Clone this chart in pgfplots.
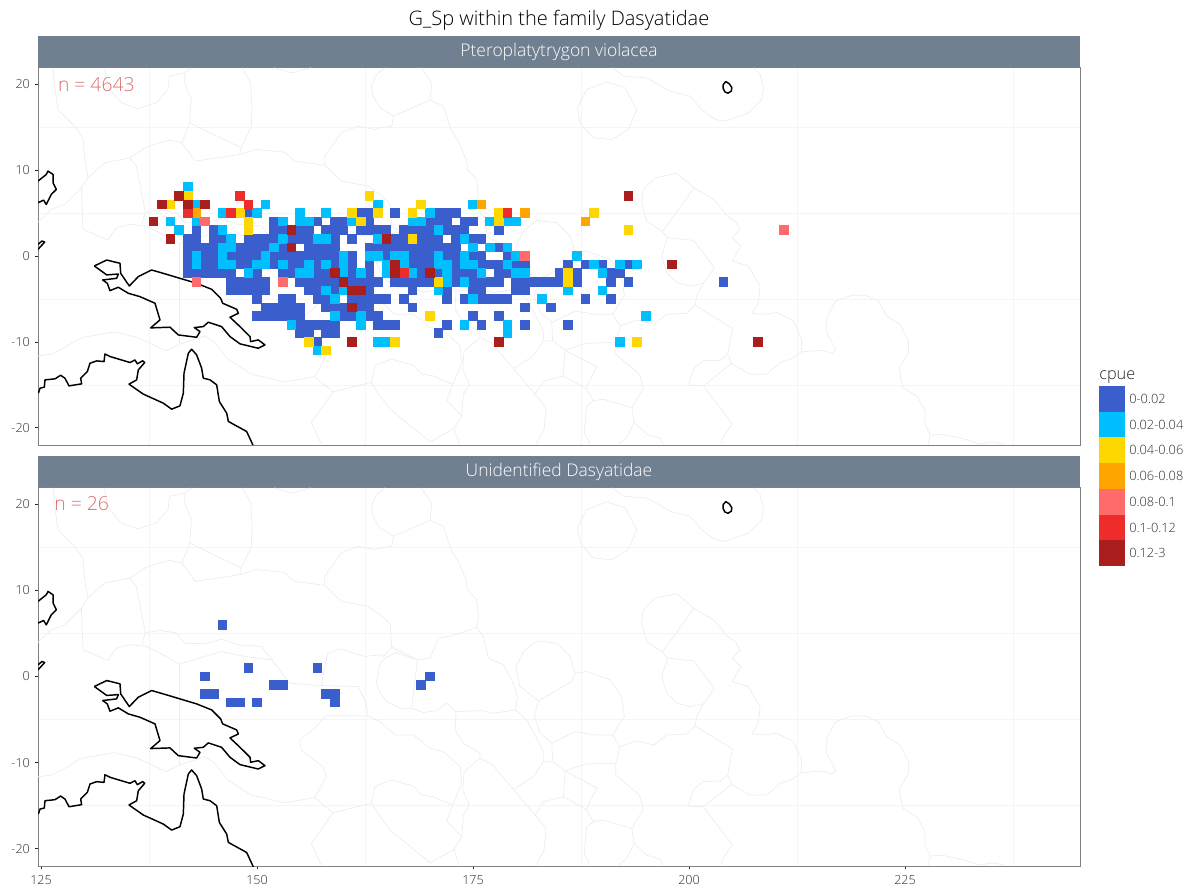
\documentclass[border=0pt]{standalone}
\usepackage{pgfplots}
\pgfplotsset{compat=1.18}
\usepackage{fontspec}
\setmainfont{Open Sans}[UprightFont=* Light]

\definecolor{c1}{HTML}{3A5FCD}
\definecolor{c2}{HTML}{00BFFF}
\definecolor{c3}{HTML}{FFD700}
\definecolor{c4}{HTML}{FFA500}
\definecolor{c5}{HTML}{FF6A6A}
\definecolor{c6}{HTML}{EE2C2C}
\definecolor{c7}{HTML}{AB1E1E}
\definecolor{stripcol}{HTML}{708090}
\definecolor{txtgrey}{HTML}{303030}
\definecolor{nred}{HTML}{DC6E6E}

\pgfplotsset{
  mapaxis/.style={
    scale only axis, width=781.5pt,
    xmin=124.65, xmax=245.25, ymin=-22, ymax=22,
    xtick={125,150,175,200,225},
    ytick={-20,-10,0,10,20},
    minor xtick={137.5,162.5,187.5,212.5,237.5},
    minor ytick={-15,-5,5,15},
    xminorgrids, yminorgrids,
    minor grid style={draw=black!4, line width=0.5pt},
    axis line style={draw=black!50, line width=0.7pt},
    tick align=outside, tick pos=left,
    major tick length=2.6pt, minor tick length=0pt,
    tick style={draw=black!85, line width=0.6pt},
    ticklabel style={font=\fontsize{9.4pt}{10pt}\selectfont, text=txtgrey},
    /pgf/number format/assume math mode=true,
    /pgf/number format/1000 sep={},
    xticklabel style={yshift=-1pt},
  },
  tile/.style={only marks, mark=square*, mark size=3.24pt,
    mark options={solid, draw=#1, fill=#1, line width=0pt}},
  eezline/.style={draw=black!7, line width=0.55pt},
  coast/.style={draw=black, line width=1.1pt, line join=round},
}

% EEZ boundaries, lon/lat
\newcommand{\eez}[1]{\addplot[eezline] coordinates {#1};}
\newcommand{\eezlines}{
\eez{(126.39,21.9)(126.58,19.76)(126.96,17.05)(128.7,15.31)(129.86,13.76)(130.05,11.24)(130.44,9.11)(129.67,7.94)(129.86,3.1)(132.75,1.86)(133.72,3.29)(135.26,3.68)(137.19,3.49)(139.5,2.32)(141.05,1.43)}
\eez{(124.65,3.95)(126.19,5.42)(127.74,6.0)(129.67,7.94)}
\eez{(130.44,9.11)(132.37,10.85)(135.26,11.43)(136.03,10.46)(137.07,5.11)(136.69,3.68)}
\eez{(135.26,11.43)(137.38,12.79)(139.89,13.49)(141.32,13.18)(142.86,11.04)(147.99,11.82)(149.92,12.4)(153.2,12.09)(154.36,11.04)(157.83,10.58)(159.76,8.72)(162.84,8.14)(164.24,7.17)(165.4,6.12)(165.59,3.41)}
\eez{(137.07,5.11)(138.92,5.35)(140.66,5.04)(141.63,3.87)(143.94,3.8)(145.87,4.34)(147.8,3.68)(150.5,3.49)(151.73,1.93)(153.78,-0.78)(157.44,-1.05)(161.69,-1.17)(162.65,-3.1)(162.84,-4.58)(164.24,-5.24)(165.98,-6.79)(168.1,-6.79)(170.03,-8.34)(171.57,-8.72)(173.5,-10.47)(173.69,-12.41)(172.65,-14.93)(171.96,-16.79)(173.69,-18.61)}
\eez{(141.05,1.43)(143.94,2.32)(145.87,2.9)(148.57,2.32)(151.73,1.93)}
\eez{(132.37,21.9)(132.56,20.54)(132.94,19.38)(134.3,17.83)(136.22,17.13)(138.35,17.83)(139.7,19.38)(139.89,20.93)(141.63,21.31)(142.5,21.9)}
\eez{(141.63,21.31)(141.63,20.15)(142.4,18.21)(142.2,15.5)(141.32,13.18)}
\eez{(142.2,15.5)(148.18,12.59)(149.34,15.11)(149.42,17.44)(149.26,20.15)(148.28,21.9)}
\eez{(148.18,12.59)(147.99,11.82)}
\eez{(152,21.9)(153.97,21.31)(156.2,21.9)}
\eez{(157.83,10.58)(157.83,11.62)(159.76,14.34)(161.69,15.11)(163.62,14.73)(164.24,14.92)(165.59,15.11)(165.78,16.28)}
\eez{(141.05,1.43)(141.05,-10.27)}
\eez{(124.65,-11.63)(126.19,-11.44)(127.74,-10.66)(129.67,-9.5)(133.52,-8.84)(136.22,-9.5)(139.5,-11.05)(141.05,-10.27)(143.94,-9.3)(145.1,-10.08)(146.64,-12.02)(149.34,-13.76)(153.2,-14.65)(156.67,-14.07)(158.02,-11.63)(157.63,-10.47)(155.13,-8.53)(154.94,-7.37)(156.67,-6.01)(158.02,-4.54)(162.84,-4.58)}
\eez{(156.67,-14.07)(158.79,-15.82)(163.23,-14.73)(164.24,-16.28)(165.4,-17.83)(170.03,-21.63)(172.8,-20.08)(173.69,-18.61)(173.89,-16.09)(174.58,-14.93)(173.81,-13.18)(173.96,-11.05)(175.81,-9.5)}
\eez{(158.79,-15.82)(156.29,-19.38)(157.44,-21.9)}
\eez{(163.23,-14.73)(163.62,-12.79)(164.24,-12.52)(165.59,-12.02)(168.1,-12.72)(169.06,-13.76)(170.41,-13.96)(172.65,-14.93)}
\eez{(157.44,-1.05)(158.02,1.93)(158.21,2.71)(159.57,3.21)(162.46,2.32)(164.24,2.52)(164.63,2.32)(165.59,3.41)}
\eez{(164.8,21.9)(163.81,21.12)(163.23,19.76)(163.42,18.6)(164.24,17.25)(165.78,16.28)(170.03,18.14)(170.22,20.15)(169,21.9)}
\eez{(170.03,18.14)(171.57,17.44)(172.42,14.73)(173.31,13.37)(174.27,11.04)(174.35,10.07)(175.43,8.91)(175.62,6.97)(175.43,5.7)}
\eez{(165.59,3.41)(168.56,1.93)(170.03,2.13)(170.99,4.45)(172.53,4.73)(175.43,5.7)(176.2,4.65)(176.78,2.13)(178.51,1.35)(179.67,-0.78)(180.13,-2.33)(179.94,-3.88)(177.36,-4.27)(176.2,-3.96)(173.04,-4.07)(171.96,-3.1)(170.8,-3.96)(169.26,-4.19)(167.9,-3.69)(166.55,-3.69)(165.01,-2.91)(164.39,-2.13)(163.81,-0.78)(164.24,1.55)(164.82,2.13)(166.09,2.79)(168.56,1.93)}
\eez{(168.56,1.93)(167.9,-3.69)}
\eez{(179.94,-3.88)(181.22,-5.04)(182.37,-7.17)(183.14,-8.72)(183.14,-9.89)(181.99,-11.63)(179.67,-13.1)}
\eez{(173.04,-4.07)(172.92,-6.2)(173.89,-7.75)(175.81,-8.92)(175.81,-9.5)(177.16,-10.16)(179.67,-13.1)(182.18,-16.09)(183.45,-17.64)(183.22,-20.16)(182.3,-21.9)}
\eez{(172.8,-20.08)(173.42,-21.9)}
\eez{(183.14,-9.89)(184.22,-9.89)(185.65,-10.97)(185.46,-13.96)(183.14,-14.54)(182.18,-16.09)}
\eez{(184.22,-9.89)(184.11,-7.75)(186.81,-6.4)(189.12,-6.79)(191.13,-6.79)(192.02,-8.14)(191.52,-10.08)(187.97,-10.16)(185.65,-10.97)}
\eez{(185.65,-10.97)(189.32,-12.91)(188.08,-15.43)(185.46,-13.96)}
\eez{(188.08,-15.43)(188.93,-16.86)(188.16,-17.45)(187.85,-20.55)(188.55,-21.9)}
\eez{(188.93,-16.86)(190.09,-16.67)(193.37,-17.64)(194.72,-15.43)(194.26,-13.76)(191.52,-11.44)(191.52,-10.08)}
\eez{(193.37,-17.64)(193.64,-19.38)(195.1,-20.74)(196.65,-21.2)(197.03,-21.9)}
\eez{(193.64,-19.38)(192.79,-21.13)(191.82,-21.9)}
\eez{(192.02,-8.14)(193.95,-7.45)(195.95,-7.95)(197.42,-6.79)(199.73,-6.67)(200.7,-5.74)(205.02,-8.41)(204.48,-11.44)(204.94,-12.52)(207.06,-13.76)(208.99,-13.76)(210.54,-12.41)(211.89,-11.94)(212.97,-11.17)(213.04,-9.69)(212.08,-7.56)(210.15,-6.59)(208.41,-6.79)(207.26,-6.67)(208.03,-5.43)(208.22,-3.49)(206.87,-1.17)(205.02,-0.58)(206.02,1.16)(205.02,2.13)(205.91,3.1)(205.33,4.07)(204.17,4.84)(203.98,5.23)(202.82,6.59)(200.58,7.94)}
\eez{(200.7,-5.74)(200.89,-4.65)(201.66,-3.18)(202.94,-1.36)(200.5,1.82)(197.53,2.13)(196.84,0)(197.42,-1.94)(198.58,-3.1)(200.12,-3.49)(201.66,-3.18)}
\eez{(197.53,2.13)(196.92,2.83)(195.1,4.07)(194.53,6.2)(194.72,7.75)(196.07,9.1)(198.58,9.61)(200.58,7.94)(196.92,2.83)}
\eez{(212.97,-11.17)(215.36,-10.97)(216.52,-11.32)(216.98,-10.97)(215.94,-8.92)(215.94,-7.17)(216.98,-5.24)(218.83,-4.58)(220.37,-4.58)(221.92,-5.24)(222.88,-6.98)(224.42,-7.95)(225.39,-9.89)(225.39,-11.24)(224.31,-13.1)(224.73,-15.31)(226.35,-16.28)(227.32,-18.03)(227.32,-19.58)(227.9,-20.86)(227.7,-21.9)}
\eez{(227.9,-20.86)(229.25,-20.74)(231.95,-21.32)(233.68,-21.9)(235.03,-21.63)(236.58,-21.9)}
\eez{(204.94,-12.52)(204.17,-13.1)(201.66,-15.12)(199.93,-15.04)(200.5,-13.18)(201.59,-12.21)(203.59,-12.13)(204.48,-11.44)}
\eez{(201.66,-15.12)(204.17,-18.41)(205.02,-19.58)(204.17,-20.74)(203.78,-21.32)(203.78,-21.9)}
\eez{(191.1,21.9)(192.4,20.93)(195.1,20.73)(197.8,19.18)(200.12,18.6)(201.47,17.05)(203.01,15.89)(204.17,15.69)(206.87,16.66)(208.41,18.21)(208.61,19.57)(208.22,21.12)(207.5,21.9)}
\eez{(182.57,-2.83)(186.42,-0.58)(186.81,0.38)(186.23,2.32)(184.69,3.87)(182.37,4.14)(180.83,2.9)(179.94,0.97)(180.44,-1.17)(182.57,-2.83)(182.1,-4.65)(182.76,-6.59)(184.22,-7.75)}
\eez{(191.13,-6.79)(192.52,-4.65)(192.21,-2.33)(190.86,-0.39)(188.16,0.58)(186.81,0.38)}
\eez{(190.47,20.27)(192.6,19.57)(193.95,17.05)(192.98,14.73)(191.05,13.56)(188.93,13.76)(187.39,15.5)(187.08,17.25)(188.16,19.38)(190.47,20.27)}
}

% coastlines, lon/lat
\newcommand{\coastlines}{
\addplot[coast] coordinates {(131.17,-1.16)(132.6,-0.47)(134.14,-0.85)(134.22,-2.02)(135.22,-3.49)(136.26,-2.40)(137.8,-1.63)(139.15,-2.02)(141.08,-2.60)(143.01,-3.18)(144.75,-3.88)(145.79,-4.92)(146.02,-5.5)(147.64,-6.2)(147.84,-6.67)(146.87,-7.13)(148.03,-8.22)(149.19,-9.38)(149.26,-9.96)(150.15,-9.77)(150.92,-10.35)(150.15,-10.74)(148.03,-10.23)(146.87,-9.38)(145.9,-8.22)(144.36,-7.71)(143.78,-8.22)(142.74,-8.33)(143.4,-8.8)(143.01,-9.46)(140.89,-9.19)(139.93,-8.29)(137.69,-8.37)(138.77,-7.44)(138.19,-5.5)(136.45,-4.73)(135.1,-4.34)(133.95,-3.64)(132.98,-4.03)(132.67,-3.18)(132.13,-2.79)(133.75,-2.6)(133.95,-2.1)(132.6,-2.2)(131.17,-1.16)};
\addplot[coast] coordinates {(124.69,-15.97)(124.88,-15.39)(125.38,-15.27)(125.46,-14.42)(126.62,-14.3)(127.27,-13.88)(127.77,-14.23)(128.24,-15.12)(129.7,-14.88)(129.59,-14.22)(130.36,-13.45)(130.67,-12.48)(131.44,-12.21)(132.29,-12.29)(132.4,-11.4)(132.98,-11.7)(135.3,-12.4)(135.87,-12.1)(136.15,-12.56)(136.76,-12.2)(137,-12.4)(136.26,-13.26)(136.07,-14.42)(135.18,-14.92)(136.84,-16.08)(139.15,-17.13)(140.12,-17.83)(141.08,-17.44)(141.47,-15.97)(141.55,-13.64)(142.05,-11.32)(142.43,-10.85)(143.01,-11.51)(143.59,-13.06)(143.78,-14.22)(144.56,-14.42)(145.33,-15)(145.64,-16.94)(146.49,-18.3)(146.68,-19.26)(148.8,-20.43)(149.57,-22.1)};
\addplot[coast] coordinates {(124.65,8.72)(125.61,9.49)(125.81,9.88)(126.39,9.49)(126.39,8.52)(126.77,7.75)(126.19,7.17)(125.61,6.0)(125.3,6.5)(124.65,6.2)};
\addplot[coast] coordinates {(124.65,0.77)(125.42,1.62)(125.11,1.74)(124.65,1.35)};
\addplot[coast] coordinates {(203.95,19.95)(204.25,20.3)(204.65,20.05)(204.95,19.6)(204.9,19.2)(204.5,18.95)(204.15,19.1)(203.95,19.5)(203.95,19.95)};
}

\begin{document}
\begin{tikzpicture}[x=1pt,y=1pt]
\path[use as bounding box] (0,0) rectangle (895.5,669);

\begin{axis}[mapaxis, at={(28.5pt,335.25pt)}, anchor=south west,
    height=283.5pt, xticklabels={}, xtick style={draw=none}]
\addplot[tile=c1] coordinates {
(149,5)(162,5)(163,5)(166,5)(171,5)(172,5)(173,5)
(152,4)(157,4)(159,4)(160,4)(163,4)(170,4)(171,4)(172,4)(174,4)(175,4)
(143,3)(145,3)(152,3)(153,3)(155,3)(156,3)(158,3)(159,3)(160,3)(162,3)(163,3)(164,3)(165,3)(167,3)(168,3)(169,3)(170,3)(172,3)(173,3)(174,3)(178,3)
(142,2)(143,2)(145,2)(146,2)(149,2)(150,2)(151,2)(152,2)(154,2)(155,2)(156,2)(159,2)(161,2)(166,2)(167,2)(169,2)(170,2)(171,2)(173,2)(175,2)(176,2)
(142,1)(143,1)(144,1)(145,1)(148,1)(149,1)(150,1)(151,1)(153,1)(156,1)(157,1)(158,1)(159,1)(163,1)(164,1)(165,1)(166,1)(167,1)(168,1)(169,1)(170,1)(171,1)(172,1)(173,1)(178,1)
(142,0)(144,0)(145,0)(147,0)(148,0)(149,0)(150,0)(152,0)(153,0)(154,0)(155,0)(156,0)(157,0)(158,0)(159,0)(161,0)(165,0)(168,0)(169,0)(170,0)(172,0)(173,0)(175,0)(176,0)(179,0)
(142,-1)(144,-1)(145,-1)(148,-1)(149,-1)(152,-1)(154,-1)(155,-1)(157,-1)(159,-1)(161,-1)(163,-1)(168,-1)(169,-1)(170,-1)(173,-1)(176,-1)(177,-1)(178,-1)(180,-1)(181,-1)(186,-1)(188,-1)(190,-1)(193,-1)
(142,-2)(143,-2)(144,-2)(145,-2)(146,-2)(147,-2)(150,-2)(153,-2)(154,-2)(157,-2)(158,-2)(161,-2)(163,-2)(169,-2)(171,-2)(173,-2)(174,-2)(175,-2)(178,-2)(179,-2)(185,-2)(187,-2)(191,-2)(192,-2)
(147,-3)(148,-3)(149,-3)(150,-3)(151,-3)(155,-3)(156,-3)(157,-3)(158,-3)(159,-3)(161,-3)(162,-3)(163,-3)(164,-3)(166,-3)(167,-3)(168,-3)(169,-3)(170,-3)(173,-3)(175,-3)(176,-3)(177,-3)(178,-3)(180,-3)(181,-3)(182,-3)(183,-3)(184,-3)(185,-3)(187,-3)(191,-3)(193,-3)(204,-3)
(147,-4)(148,-4)(149,-4)(150,-4)(151,-4)(156,-4)(157,-4)(159,-4)(163,-4)(168,-4)(172,-4)(175,-4)(176,-4)(180,-4)(181,-4)
(150,-5)(153,-5)(154,-5)(157,-5)(158,-5)(161,-5)(162,-5)(163,-5)(164,-5)(165,-5)(167,-5)(172,-5)(174,-5)(176,-5)(177,-5)(178,-5)(179,-5)(188,-5)(191,-5)
(151,-6)(152,-6)(153,-6)(154,-6)(155,-6)(158,-6)(159,-6)(160,-6)(162,-6)(163,-6)(168,-6)(181,-6)(184,-6)
(150,-7)(151,-7)(152,-7)(153,-7)(154,-7)(155,-7)(160,-7)(161,-7)(163,-7)(164,-7)(175,-7)(178,-7)
(155,-8)(156,-8)(157,-8)(158,-8)(159,-8)(164,-8)(165,-8)(166,-8)(172,-8)(176,-8)(181,-8)(186,-8)
(155,-9)(156,-9)(158,-9)(159,-9)(171,-9)
(157,-10)
};
\addplot[tile=c2] coordinates {
(142,8)
(143,6)(151,6)(164,6)(175,6)
(146,5)(150,5)(155,5)(158,5)(170,5)
(140,4)(143,4)(153,4)(155,4)(156,4)(161,4)(168,4)(169,4)(177,4)(179,4)(180,4)
(141,3)(146,3)(171,3)
(147,2)(153,2)(157,2)(158,2)(164,2)(174,2)
(146,1)(147,1)(152,1)(175,1)(177,1)(179,1)
(143,0)(146,0)(151,0)(160,0)(163,0)(164,0)(166,0)(167,0)(171,0)(174,0)(180,0)(187,0)
(143,-1)(146,-1)(147,-1)(150,-1)(151,-1)(153,-1)(156,-1)(158,-1)(160,-1)(165,-1)(167,-1)(171,-1)(172,-1)(174,-1)(175,-1)(179,-1)(189,-1)(192,-1)(194,-1)
(149,-2)(155,-2)(156,-2)(160,-2)(162,-2)(165,-2)(168,-2)(172,-2)(176,-2)(180,-2)(181,-2)(190,-2)
(172,-3)(174,-3)
(158,-4)(160,-4)(171,-4)(186,-4)(190,-4)
(159,-5)(175,-5)(183,-5)
(159,-7)(162,-7)(195,-7)
(154,-8)(162,-8)(174,-8)(179,-8)
(179,-9)
(164,-10)(165,-10)(192,-10)
(157,-11)
};
\addplot[tile=c3] coordinates {(142,7)(163,7)(140,6)(169,6)(148,5)(161,5)(164,5)(168,5)(178,5)(189,5)(149,4)(162,4)(178,4)(149,3)(193,3)(168,2)(186,-2)(171,-3)(186,-3)(170,-7)(156,-10)(166,-10)(194,-10)(158,-11)};
\addplot[tile=c4] coordinates {(176,6)(143,5)(181,5)(188,4)};
\addplot[tile=c5] coordinates {(144,4)(211,3)(181,0)(143,-3)(153,-3)};
\addplot[tile=c6] coordinates {(148,7)(149,6)(142,5)(147,5)(179,5)(167,-2)};
\addplot[tile=c7] coordinates {(141,7)(193,7)(139,6)(142,6)(144,6)(138,4)(154,3)(140,2)(165,2)(154,1)(166,-1)(198,-1)(159,-2)(166,-2)(170,-2)(160,-3)(161,-4)(162,-4)(161,-6)(161,-10)(178,-10)(208,-10)};
\eezlines
\coastlines
\node[text=nred, font=\fontsize{14.5pt}{16pt}\selectfont] at (axis cs:131.4,20) {n = 4643};
\end{axis}

\begin{axis}[mapaxis, at={(28.5pt,19.5pt)}, anchor=south west, height=284.25pt]
\addplot[tile=c1] coordinates {(146,6)(149,1)(157,1)(144,0)(170,0)(152,-1)(153,-1)(169,-1)(144,-2)(145,-2)(158,-2)(159,-2)(147,-3)(148,-3)(150,-3)(159,-3)};
\eezlines
\coastlines
\node[text=nred, font=\fontsize{14.5pt}{16pt}\selectfont] at (axis cs:129.7,20.1) {n = 26};
\end{axis}

% facet strips
\fill[stripcol] (28.5,618.75) rectangle (810,642);
\fill[stripcol] (28.5,303.75) rectangle (810,327);
\node[text=white, font=\fontsize{13.1pt}{14pt}\selectfont] at (419.25,630.2) {Pteroplatytrygon violacea};
\node[text=white, font=\fontsize{13.1pt}{14pt}\selectfont] at (419.25,315.2) {Unidentified Dasyatidae};

% title
\node[text=black, font=\fontsize{15pt}{16pt}\selectfont] at (419.25,653.5) {G\_Sp within the family Dasyatidae};

% legend
\node[anchor=west, inner sep=0pt, text=black!85, font=\fontsize{12.2pt}{13pt}\selectfont] at (824.25,386) {cpue};
\foreach \i/\lab in {1/0-0.02,2/0.02-0.04,3/0.04-0.06,4/0.06-0.08,5/0.08-0.1,6/0.1-0.12,7/0.12-3}{
  \fill[c\i] (824.25,{379.5-(\i-1)*19.29}) rectangle (843.75,{379.5-\i*19.29});
  \node[anchor=west, inner sep=0pt, text=txtgrey, font=\fontsize{9.6pt}{10pt}\selectfont] at (846.75,{379.5-(\i-0.5)*19.29}) {\lab};
}
\end{tikzpicture}
\end{document}
